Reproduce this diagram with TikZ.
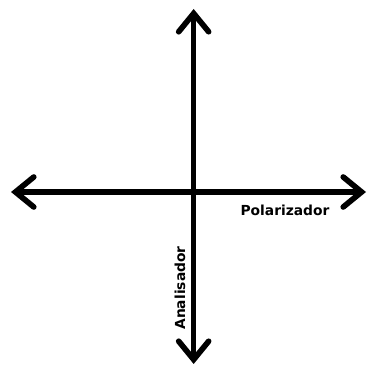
\documentclass[tikz,border=0pt]{standalone}
\usepackage{fontspec}
\setmainfont{DejaVu Sans}
\usetikzlibrary{arrows.meta, positioning}

\begin{document}
\begin{tikzpicture}[
    axis/.style={line width=4.8pt, {Straight Barb[length=0.55cm, width=0.9cm, line cap=round]}-{Straight Barb[length=0.55cm, width=0.9cm, line cap=round]}},
    axislabel/.style={font=\bfseries\fontsize{11.8}{13}\selectfont, inner sep=0pt}
]
    \useasboundingbox (0,0) rectangle (11.07,11.16);

    % Axis ends
    \coordinate (left) at (0.33,5.40);
    \coordinate (right) at (10.98,5.40);
    \coordinate (top) at (5.81,10.89);
    \coordinate (bottom) at (5.81,0.24);

    % Axes
    \draw[axis] (left) -- (right);
    \draw[axis] (bottom) -- (top);

    % Labels
    \node[axislabel] (pol) at (8.55,4.86) {Polarizador};
    \node[axislabel, rotate=90] (ana) at (5.40,2.52) {Analisador};
\end{tikzpicture}
\end{document}
